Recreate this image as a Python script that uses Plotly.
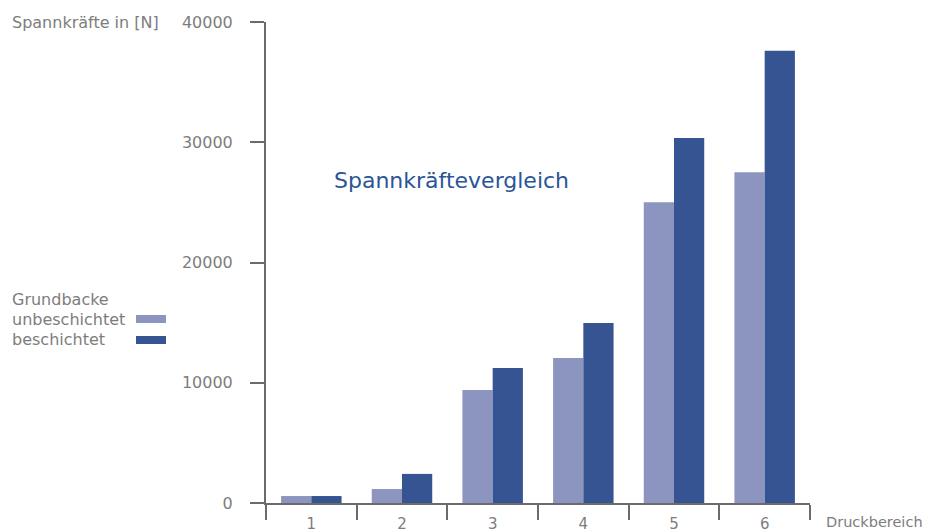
import plotly.graph_objects as go

categories = [1, 2, 3, 4, 5, 6]
tick_labels = ["1", "2", "3", "4", "5", "6"]
unbeschichtet = [580, 1160, 9400, 12050, 25000, 27500]
beschichtet = [580, 2420, 11230, 14970, 30350, 37600]
y_ticks = [0, 10000, 20000, 30000, 40000]

C_UNB = "#8C95BF"
C_BES = "#365491"
GRAY = "#7d7d7d"
AXIS = "#6b6b6b"
FONT = "DejaVu Sans"
FS = 16

# page offset (body margin) in the screenshot
OFF = 8
W, H = 934 - OFF, 532 - OFF
L, T = 266 - OFF, 22 - OFF
R, B = 934 - 810, 532 - 503
pw, ph = W - L - R, H - T - B


def px(x):
    return (x - OFF - L) / pw


def py(y):
    return (H - B - (y - OFF)) / ph


fig = go.Figure()
fig.add_trace(go.Bar(x=categories, y=unbeschichtet, name="unbeschichtet",
                     marker=dict(color=C_UNB, line=dict(width=0))))
fig.add_trace(go.Bar(x=categories, y=beschichtet, name="beschichtet",
                     marker=dict(color=C_BES, line=dict(width=0))))

fig.update_layout(
    width=W, height=H, autosize=False,
    margin=dict(l=L, r=R, t=T, b=B, pad=0, autoexpand=False),
    paper_bgcolor="white", plot_bgcolor="white",
    barmode="group", bargap=0.333, bargroupgap=0,
    showlegend=False,
    font=dict(family=FONT, size=FS, color=GRAY),
    xaxis=dict(
        range=[0.5, 6.5], tickvals=categories, ticktext=tick_labels,
        ticks="", showgrid=False, zeroline=False, automargin=False,
        showline=True, linecolor=AXIS, linewidth=2,
        ticklabelstandoff=6,
        tickfont=dict(family=FONT, size=15, color=GRAY),
        minor=dict(tick0=0.5, dtick=1, ticks="outside", ticklen=15,
                   tickwidth=2, tickcolor=AXIS, showgrid=False),
    ),
    yaxis=dict(
        range=[0, 40000], tickvals=y_ticks,
        ticktext=[str(v) for v in y_ticks],
        ticks="outside", ticklen=14, tickwidth=2, tickcolor=AXIS,
        showgrid=False, zeroline=False, automargin=False,
        showline=True, linecolor=AXIS, linewidth=2,
        ticklabelstandoff=14,
        tickfont=dict(family=FONT, size=FS, color=GRAY),
    ),
)

anns = [
    dict(text="Spannkräfte in [N]", x=px(10), y=py(22), xanchor="left", yanchor="middle",
         font=dict(size=FS, color=GRAY)),
    dict(text="Druckbereich", x=px(824), y=py(522), xanchor="left", yanchor="middle",
         font=dict(size=14.5, color=GRAY)),
    dict(text="Spannkräftevergleich", x=px(332), y=py(181), xanchor="left", yanchor="middle",
         font=dict(size=22, color="#2A5596")),
    dict(text="Grundbacke", x=px(10), y=py(299), xanchor="left", yanchor="middle",
         font=dict(size=FS, color=GRAY)),
    dict(text="unbeschichtet", x=px(10), y=py(319), xanchor="left", yanchor="middle",
         font=dict(size=FS, color=GRAY)),
    dict(text="beschichtet", x=px(10), y=py(339), xanchor="left", yanchor="middle",
         font=dict(size=FS, color=GRAY)),
]
for a in anns:
    a.update(xref="paper", yref="paper", showarrow=False)
fig.update_layout(annotations=anns)

fig.add_shape(type="rect", xref="paper", yref="paper", x0=px(136), x1=px(166),
              y0=py(323), y1=py(315), fillcolor=C_UNB, line=dict(width=0))
fig.add_shape(type="rect", xref="paper", yref="paper", x0=px(136), x1=px(166),
              y0=py(344), y1=py(336), fillcolor=C_BES, line=dict(width=0))

fig.write_html("out.html")
